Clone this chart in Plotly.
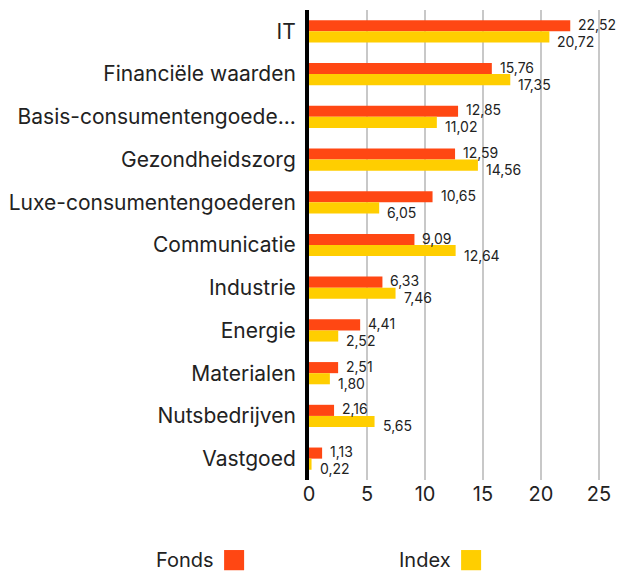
import plotly.graph_objects as go

categories = ["IT", "Financiële waarden", "Basis-consumentengoede...", "Gezondheidszorg",
              "Luxe-consumentengoederen", "Communicatie", "Industrie", "Energie",
              "Materialen", "Nutsbedrijven", "Vastgoed"]
fonds = [22.52, 15.76, 12.85, 12.59, 10.65, 9.09, 6.33, 4.41, 2.51, 2.16, 1.13]
index = [20.72, 17.35, 11.02, 14.56, 6.05, 12.64, 7.46, 2.52, 1.80, 5.65, 0.22]
series_names = ["Fonds", "Index"]
colors = ["#FF4713", "#FFCE00"]
x_ticks = [0, 5, 10, 15, 20, 25]

FONT = "Inter"

fig = go.Figure()
for name, vals, col in zip(series_names, [fonds, index], colors):
    fig.add_trace(go.Bar(y=categories, x=vals, name=name, orientation="h",
                         marker=dict(color=col, line=dict(width=0)), showlegend=False))

def fmt(v):
    return f"{v:.2f}".replace(".", ",")

annotations = []
for vals, ysh in [(fonds, 7), (index, -10)]:
    for c, v in zip(categories, vals):
        annotations.append(dict(x=v, y=c, xref="x", yref="y", text=fmt(v), showarrow=False,
                                xanchor="left", yanchor="middle", xshift=6, yshift=ysh,
                                font=dict(family=FONT, size=14, color="#222")))

# legend (text followed by swatch); paper coords: x=(px-309)/300, y=(480-py)/470
legend_items = [(series_names[0], colors[0], -0.31), (series_names[1], colors[1], 0.48)]
shapes = []
for name, col, xp in legend_items:
    annotations.append(dict(x=xp, y=-0.170, xref="paper", yref="paper", text=name,
                            showarrow=False, xanchor="right", yanchor="middle",
                            font=dict(family=FONT, size=20, color="#222")))
    shapes.append(dict(type="rect", xref="paper", yref="paper",
                       x0=xp + 0.027, x1=xp + 0.027 + 0.0667, y0=-0.149, y1=-0.192,
                       fillcolor=col, line=dict(width=0)))

fig.update_layout(
    width=617, height=573,
    margin=dict(l=309, r=8, t=10, b=93, autoexpand=False),
    barmode="group", bargap=0.48, bargroupgap=0,
    plot_bgcolor="white", paper_bgcolor="white",
    font=dict(family=FONT, color="#222"),
    annotations=annotations, shapes=shapes,
    xaxis=dict(range=[0, 25.86], tickvals=x_ticks, showgrid=True, gridcolor="#c8c8c8",
               gridwidth=2, zeroline=False, showline=False, automargin=False,
               tickfont=dict(family=FONT, size=20, color="#222"), ticks=""),
    yaxis=dict(autorange="reversed", showline=True, linecolor="black", linewidth=4,
               showgrid=False, ticks="", ticklabelstandoff=5, automargin=False,
               tickfont=dict(family=FONT, size=21, color="#222")),
)

fig.write_html("out.html", config={"displayModeBar": False},
               post_script="document.body.style.margin='0';")
